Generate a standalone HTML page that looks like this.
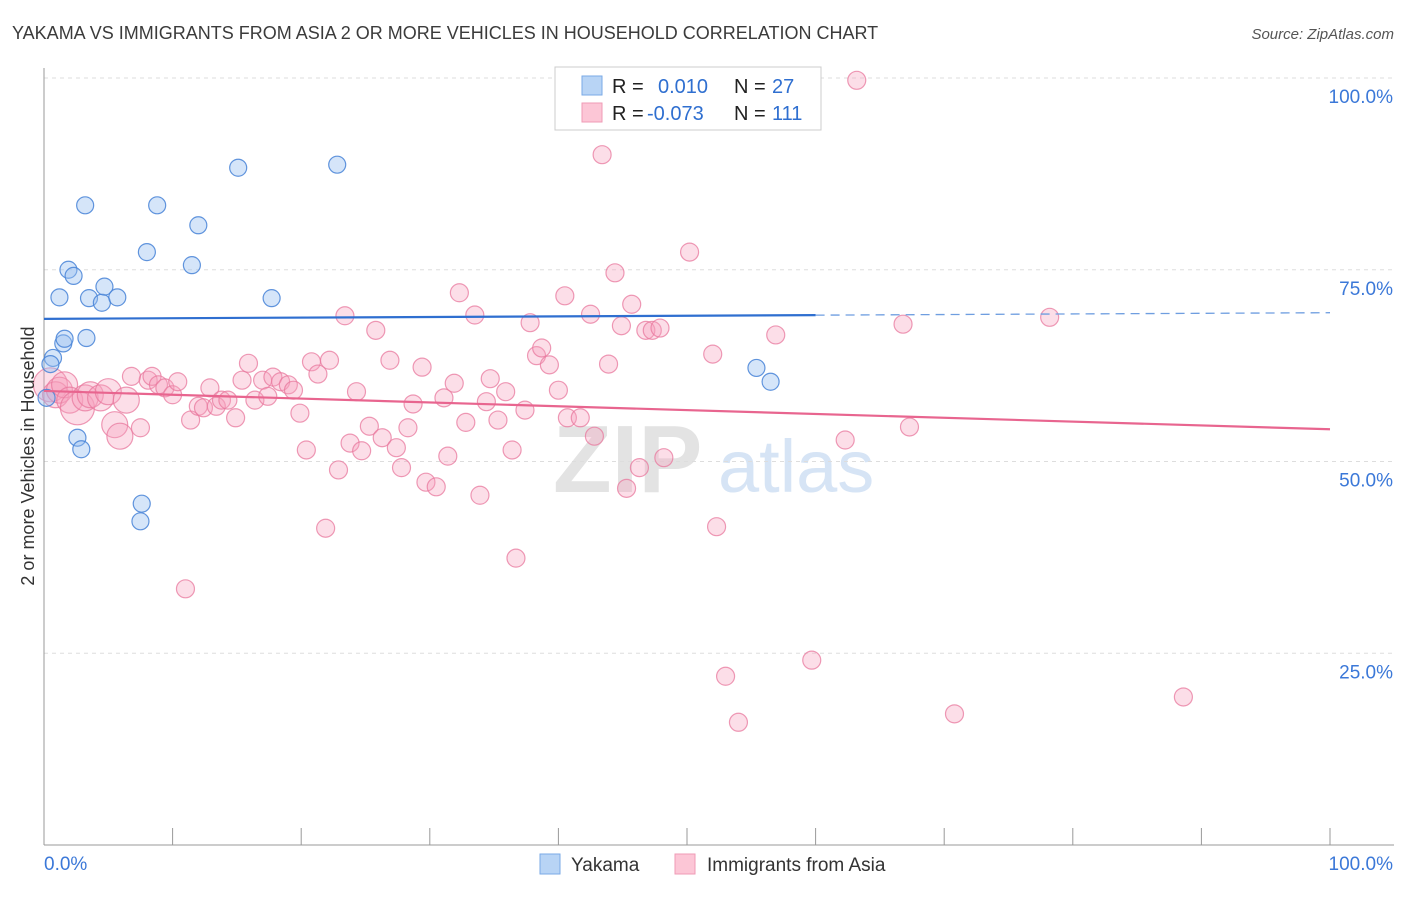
<!DOCTYPE html>
<html><head><meta charset="utf-8"><style>
body{margin:0;background:#fff;font-family:"Liberation Sans",sans-serif}
svg text{font-family:"Liberation Sans",sans-serif}
</style></head><body>
<svg id="chart" width="1406" height="892" viewBox="0 0 1406 892" xmlns="http://www.w3.org/2000/svg">
<text x="12" y="39" font-size="18" fill="#3b3b3b">YAKAMA VS IMMIGRANTS FROM ASIA 2 OR MORE VEHICLES IN HOUSEHOLD CORRELATION CHART</text>
<text x="1394" y="39" font-size="15" fill="#555" text-anchor="end" font-style="italic">Source: ZipAtlas.com</text>
<g>
<text x="553" y="492" font-size="96" font-family="Liberation Serif,serif" font-weight="bold" fill="#e3e3e3">ZIP</text>
<text x="718" y="492" font-size="74" fill="#d6e4f5">atlas</text>
</g>
<g id="grid"></g>
<g id="axes"></g>
<g id="pts"></g>
<g id="trends"></g>
<text transform="translate(34,456) rotate(-90)" font-size="18" fill="#333" text-anchor="middle">2 or more Vehicles in Household</text>
<g>
<rect x="555" y="67" width="266" height="63" fill="#fff" stroke="#ccc"/>
<rect x="582" y="76" width="20" height="19" fill="#b8d4f5" stroke="#7aaae6"/>
<rect x="582" y="103" width="20" height="19" fill="#fcc6d6" stroke="#ef9bb6"/>
<text x="612" y="93" font-size="20" fill="#222">R =</text>
<text x="658" y="93" font-size="20" fill="#2f6fd0">0.010</text>
<text x="734" y="93" font-size="20" fill="#222">N =</text>
<text x="772" y="93" font-size="20" fill="#2f6fd0">27</text>
<text x="612" y="120" font-size="20" fill="#222">R =</text>
<text x="647" y="120" font-size="20" fill="#2f6fd0">-0.073</text>
<text x="734" y="120" font-size="20" fill="#222">N =</text>
<text x="772" y="120" font-size="20" fill="#2f6fd0">111</text>
</g>
<g>
<rect x="540" y="854" width="20" height="20" fill="#b8d4f5" stroke="#7aaae6"/>
<text x="571" y="871" font-size="19" fill="#333">Yakama</text>
<rect x="675" y="854" width="20" height="20" fill="#fcc6d6" stroke="#ef9bb6"/>
<text x="707" y="871" font-size="19" fill="#333">Immigrants from Asia</text>
</g>
</svg>
<script>
const yTicks=[25,50,75,100];
const yTickLabels=["25.0%","50.0%","75.0%","100.0%"];
const xTicks=[0,10,20,30,40,50,60,70,80,90,100];
const blueX=[0.2,0.7,1.2,1.5,1.6,1.9,2.3,2.6,2.9,3.3,3.2,3.5,4.5,4.7,5.7,7.6,7.5,8.0,8.8,11.5,12.0,15.1,17.7,22.8,55.4,56.5,0.5];
const blueY=[58.3,63.5,71.4,65.4,66.0,75.0,74.2,53.1,51.6,66.1,83.4,71.3,70.7,72.8,71.4,44.5,42.2,77.3,83.4,75.6,80.8,88.3,71.3,88.7,62.2,60.4,62.7];
const pinkX=[0.5,0.9,1.2,1.6,2.0,2.6,3.2,3.6,4.4,5.0,5.5,5.9,6.4,6.8,7.5,8.1,8.4,8.9,9.4,10.0,10.4,11.0,11.4,12.0,12.4,12.9,13.4,13.8,14.3,14.9,15.4,15.9,16.4,17.0,17.4,17.8,18.4,19.0,19.4,19.9,20.4,20.8,21.3,21.9,22.2,22.9,23.4,23.8,24.3,24.7,25.3,25.8,26.3,26.9,27.4,27.8,28.3,28.7,29.4,29.7,30.5,31.1,31.4,31.9,32.3,32.8,33.5,33.9,34.4,34.7,35.3,35.9,36.4,36.7,37.4,37.8,38.3,38.7,39.3,40.0,40.5,40.7,41.7,42.8,42.5,43.4,43.9,44.4,44.9,45.3,45.7,46.3,46.8,47.3,47.9,48.2,50.2,52.0,52.3,53.0,53.4,54.0,56.9,59.7,62.3,63.2,66.8,67.3,70.8,78.2,88.6];
const pinkY=[60.0,58.7,59.3,60.0,58.0,57.0,58.3,58.7,58.3,59.1,54.8,53.3,58.0,61.1,54.4,60.6,61.1,60.0,59.6,58.7,60.4,33.4,55.4,57.2,57.0,59.6,57.2,58.0,58.0,55.7,60.6,62.8,58.0,60.6,58.5,61.0,60.4,60.0,59.3,56.3,51.5,63.0,61.4,41.3,63.2,48.9,69.0,52.4,59.1,51.4,54.6,67.1,53.1,63.2,51.8,49.2,54.4,57.5,62.3,47.3,46.7,58.3,50.7,60.2,72.0,55.1,69.1,45.6,57.8,60.8,55.4,59.1,51.5,37.4,56.7,68.1,63.8,64.8,62.6,59.3,71.6,55.7,55.7,53.3,69.2,90.0,62.7,74.6,67.7,46.5,70.5,49.2,67.1,67.1,67.4,50.5,77.3,64.0,41.5,22.0,99.7,16.0,66.5,24.1,52.8,99.7,67.9,54.5,17.1,68.8,19.3];
const pinkWeight=[3,2,2,2,2,3,2,2,2,2,2,2,2,1,1,1,1,1,1,1];
const blueTrend=[68.6,69.4];
const pinkTrend=[59.2,54.2];
const X0=44,X1=1330,Y0=845,Y100=78;
const sx=v=>X0+(X1-X0)*v/100, sy=v=>Y0-(Y0-Y100)*v/100;
const NS="http://www.w3.org/2000/svg";
function mk(t,a,p){const e=document.createElementNS(NS,t);for(const k in a)e.setAttribute(k,a[k]);p.appendChild(e);return e;}
const grid=document.getElementById('grid'),axes=document.getElementById('axes'),pts=document.getElementById('pts'),tr=document.getElementById('trends');
yTicks.forEach((t,i)=>{
 const l=mk('line',{x1:X0,x2:1394,y1:sy(t),y2:sy(t),stroke:'#ddd','stroke-dasharray':'4,4'},grid);
 
 const tx=mk('text',{x:1393,y:sy(t)+25,'font-size':19,fill:'#3b78d8','text-anchor':'end'},axes);
 tx.textContent=yTickLabels[i];
 
});
const ax=mk('line',{x1:X0,x2:X0,y1:68,y2:Y0,stroke:'#999'},axes);

const bx=mk('line',{x1:X0,x2:1394,y1:Y0,y2:Y0,stroke:'#999'},axes);

xTicks.forEach(t=>{const l=mk('line',{x1:sx(t),x2:sx(t),y1:828,y2:Y0,stroke:'#999'},axes);
 });
let t1=mk('text',{x:44,y:870,'font-size':19,fill:'#3b78d8'},axes);t1.textContent='0.0%';

let t2=mk('text',{x:1393,y:870,'font-size':19,fill:'#3b78d8','text-anchor':'end'},axes);t2.textContent='100.0%';

pinkX.forEach((v,i)=>{const w=pinkWeight[i]||1;
 const c=mk('circle',{cx:sx(v),cy:sy(pinkY[i]),r:9+(w-1)*4,fill:'rgba(246,160,188,0.35)',stroke:'rgba(232,120,158,0.75)','stroke-width':1.2},pts);
 });
blueX.forEach((v,i)=>{
 const c=mk('circle',{cx:sx(v),cy:sy(blueY[i]),r:8.5,fill:'rgba(150,190,240,0.4)',stroke:'rgba(70,130,215,0.85)','stroke-width':1.2},pts);
 });
const bt=v=>blueTrend[0]+(blueTrend[1]-blueTrend[0])*v/100;
let l1=mk('line',{x1:sx(0),y1:sy(bt(0)),x2:sx(60),y2:sy(bt(60)),stroke:'#2f6fd0','stroke-width':2.2},tr);

let l2=mk('line',{x1:sx(60),y1:sy(bt(60)),x2:sx(100),y2:sy(bt(100)),stroke:'#6f9ee0','stroke-width':1.3,'stroke-dasharray':'9,6'},tr);

let l3=mk('line',{x1:sx(0),y1:sy(pinkTrend[0]),x2:sx(100),y2:sy(pinkTrend[1]),stroke:'#e8658f','stroke-width':2.2},tr);

</script>
</body></html>
